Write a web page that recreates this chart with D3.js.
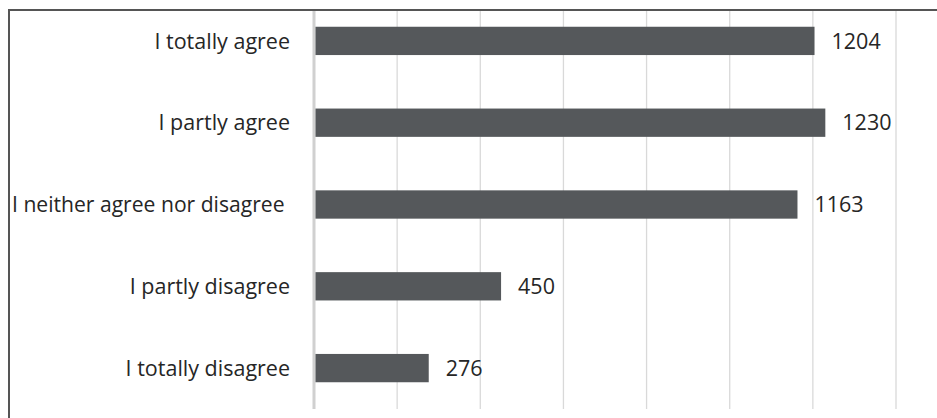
<!DOCTYPE html>
<html>
<head>
<meta charset="utf-8">
<script src="https://cdn.jsdelivr.net/npm/d3@7"></script>
<style>
  html, body { margin: 0; padding: 0; background: #fff; }
  svg { display: block; }
  text { font-family: "Open Sans", "Noto Sans", sans-serif; fill: #262626; }
</style>
</head>
<body>
<svg id="chart" width="937" height="418"></svg>
<script>
const categories = ["I totally agree", "I partly agree", "I neither agree nor disagree ", "I partly disagree", "I totally disagree"];
const values = [1204, 1230, 1163, 450, 276];
const gridTicks = [0, 200, 400, 600, 800, 1000, 1200, 1400];

const W = 937, H = 418;
const svg = d3.select("#chart");

const x = d3.scaleLinear().domain([0, 1400]).range([314, 896]);
const y = d3.scaleBand().domain(categories).range([0, 409]).paddingInner(0.654).paddingOuter(0.327);

const gridTop = 11, gridBottom = 409;
const labelRight = 290, labelLeftLimit = 12;

// gridlines
svg.append("g").selectAll("line").data(gridTicks.slice(1)).join("line")
  .attr("x1", d => x(d)).attr("x2", d => x(d))
  .attr("y1", gridTop).attr("y2", gridBottom)
  .attr("stroke", "#d9d9d9").attr("stroke-width", 1.3);

// vertical axis line
svg.append("line")
  .attr("x1", x(0)).attr("x2", x(0))
  .attr("y1", gridTop).attr("y2", gridBottom)
  .attr("stroke", "#d0d0d0").attr("stroke-width", 3);

// bars
svg.append("g").selectAll("rect").data(values).join("rect")
  .attr("x", x(0) + 1.5)
  .attr("y", (d, i) => y(categories[i]))
  .attr("width", d => x(d) - x(0) - 1.5)
  .attr("height", y.bandwidth())
  .attr("fill", "#55585b");

// value labels
svg.append("g").selectAll("text").data(values).join("text")
  .attr("x", d => x(d) + 17)
  .attr("y", (d, i) => y(categories[i]) + y.bandwidth() / 2)
  .attr("dy", "0.36em")
  .attr("font-size", 21.5)
  .text(d => d);

// category labels
svg.append("g").selectAll("text").data(categories).join("text")
  .attr("x", labelRight)
  .attr("y", d => y(d) + y.bandwidth() / 2)
  .attr("dy", "0.36em")
  .attr("text-anchor", "end")
  .attr("font-size", 21.5)
  .style("white-space", "pre")
  .text(d => d)
  .each(function () {
    const len = this.getComputedTextLength();
    const avail = labelRight - labelLeftLimit;
    if (len > avail) {
      d3.select(this).attr("textLength", avail).attr("lengthAdjust", "spacingAndGlyphs");
    }
  });

// chart border (extends past the right and bottom edges)
svg.append("path")
  .attr("d", `M9,${H + 5} L9,10 L${W + 5},10`)
  .attr("fill", "none")
  .attr("stroke", "#555")
  .attr("stroke-width", 2);
</script>
</body>
</html>
